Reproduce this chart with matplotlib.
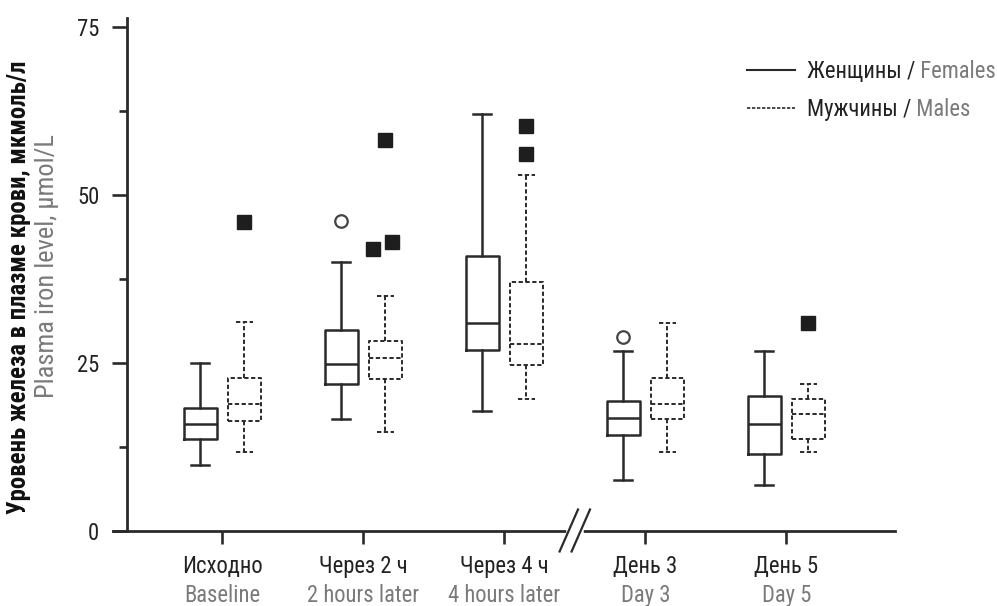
import matplotlib
matplotlib.use("Agg")
import matplotlib.pyplot as plt
import matplotlib.transforms as mtransforms
from matplotlib import font_manager as fm
from matplotlib.lines import Line2D

# ---------------- data ----------------
categories_ru = ['Исходно', 'Через 2 ч', 'Через 4 ч', 'День 3', 'День 5']
categories_en = ['Baseline', '2 hours later', '4 hours later', 'Day 3', 'Day 5']

fem_whislo = [9.8, 16.7, 17.8, 7.6, 6.8]
fem_q1 = [13.7, 21.9, 26.9, 14.3, 11.5]
fem_med = [15.9, 24.9, 31.0, 16.8, 15.9]
fem_q3 = [18.3, 29.9, 40.9, 19.3, 20.1]
fem_whishi = [25.0, 40.0, 62.0, 26.8, 26.8]
fem_fliers = [[], [46.1], [], [28.8], []]

male_whislo = [11.8, 14.8, 19.7, 11.7, 11.7]
male_q1 = [16.4, 22.6, 24.7, 16.7, 13.7]
male_med = [18.9, 25.8, 27.9, 18.9, 17.4]
male_q3 = [22.8, 28.2, 37.0, 22.7, 19.7]
male_whishi = [31.1, 34.9, 53.0, 31.0, 21.9]
male_fliers = [[46.0], [58.2, 43.0, 42.0], [60.2, 56.1], [], [30.9]]
male_flier_jitter = [[0.0], [0.0, 0.05, -0.09], [0.0, 0.0], [], [0.0]]

y_major = [0, 25, 50, 75]
y_minor = [12.5, 37.5, 62.5]

legend_ru = ['Женщины /', 'Мужчины /']
legend_en = ['Females', 'Males']
ylabel_ru = 'Уровень железа в плазме крови, мкмоль/л'
ylabel_en = 'Plasma iron level, μmol/L'

# ---------------- font choice (prefer a condensed face) ----------------
names = {f.name for f in fm.fontManager.ttflist}
stretches = {(f.name, f.stretch) for f in fm.fontManager.ttflist}
family = None
stretch = 'normal'
for cand in ['Liberation Sans Narrow', 'Roboto Condensed', 'Open Sans Condensed',
             'Noto Sans Condensed', 'DejaVu Sans Condensed']:
    if cand in names:
        family = cand
        break
if family is None:
    for n, s in stretches:
        if n in ('Roboto', 'Noto Sans', 'DejaVu Sans', 'Open Sans') and s in ('condensed', 'semi-condensed', 'extra-condensed', 'ultra-condensed'):
            family, stretch = n, s
            break
if family is None:
    family = 'Roboto' if 'Roboto' in names else 'DejaVu Sans'
plt.rcParams['font.family'] = [family, 'DejaVu Sans']
plt.rcParams['font.stretch'] = stretch

# ---------------- style ----------------
W, H = 997, 606
DPI = 100
ink = '#2a2a2a'
gray = '#7a7a7a'
offset = 0.157
bw = 0.235
dash = (0, (2.2, 1.3))

fig = plt.figure(figsize=(W / DPI, H / DPI), dpi=DPI)
renderer = fig.canvas.get_renderer()


def fit_size(text, target_px, weight='normal', maxsize=19.0):
    t = fig.text(0, 0, text, fontsize=10, fontweight=weight)
    w = t.get_window_extent(renderer).width
    t.remove()
    return min(maxsize, 10 * target_px / w)


fs = fit_size('Женщины / Females', 188)
fs_lab = fit_size(ylabel_ru, 452, 'bold')
fs_lab_en = fit_size(ylabel_en, 305)

ax_left_px, ax_right_px = 112.7, 895
ax_bottom_px, ax_top_px = 531, 18
ax = fig.add_axes([ax_left_px / W, (H - ax_bottom_px) / H,
                   (ax_right_px - ax_left_px) / W, (ax_bottom_px - ax_top_px) / H])

x0_px, step_px = 222.3, 141.0
ax.set_xlim((ax_left_px - x0_px) / step_px, (ax_right_px - x0_px) / step_px)
ax.set_ylim(0, (ax_bottom_px - ax_top_px) / 6.72)

positions = list(range(len(categories_ru)))


def stats(wl, q1, md, q3, wh):
    return [dict(whislo=a, q1=b, med=c, q3=d, whishi=e, fliers=[])
            for a, b, c, d, e in zip(wl, q1, md, q3, wh)]


fem_stats = stats(fem_whislo, fem_q1, fem_med, fem_q3, fem_whishi)
male_stats = stats(male_whislo, male_q1, male_med, male_q3, male_whishi)

solid = dict(color=ink, linewidth=1.8, linestyle='-')
ax.bxp(fem_stats, positions=[p - offset for p in positions], widths=bw,
       capwidths=0.125, showfliers=False,
       boxprops=solid, whiskerprops=solid, capprops=solid, medianprops=solid)
dashed = dict(color=ink, linewidth=1.4, linestyle=dash)
ax.bxp(male_stats, positions=[p + offset for p in positions], widths=bw,
       capwidths=0.125, showfliers=False,
       boxprops=dashed, whiskerprops=dashed, capprops=dashed, medianprops=dashed)

# outliers
for p, fl in zip(positions, fem_fliers):
    if fl:
        ax.plot([p - offset] * len(fl), fl, linestyle='none', marker='o',
                markersize=9, markerfacecolor='white', markeredgecolor='#444444',
                markeredgewidth=1.6, clip_on=False)
for p, fl, jit in zip(positions, male_fliers, male_flier_jitter):
    if fl:
        ax.plot([p + offset + j for j in jit], fl, linestyle='none', marker='s',
                markersize=9.5, markerfacecolor='#1e1e1e', markeredgecolor='#1e1e1e',
                clip_on=False)

# spines
for s in ['top', 'right']:
    ax.spines[s].set_visible(False)
ax.spines['left'].set_position(('data', (126.7 - x0_px) / step_px))
for s in ['left', 'bottom']:
    ax.spines[s].set_linewidth(2.0)
    ax.spines[s].set_color(ink)

ax.set_yticks(y_major)
ax.set_yticks(y_minor, minor=True)
ax.set_yticklabels([str(v) for v in y_major])
ax.tick_params(axis='y', which='major', length=10.8, width=1.9, color=ink,
               labelsize=fs, pad=9, labelcolor='#222222')
ax.tick_params(axis='y', which='minor', length=6.0, width=1.9, color=ink)
ax.set_xticks(positions)
ax.set_xticklabels(categories_ru)
ax.tick_params(axis='x', which='major', length=9.5, width=1.9, color=ink,
               labelsize=fs, pad=8, labelcolor='#222222')
ax.tick_params(axis='x', which='minor', bottom=False)

blend = mtransforms.blended_transform_factory(ax.transData, ax.transAxes)
for p, lab in zip(positions, categories_en):
    ax.annotate(lab, xy=(p, 0), xycoords=blend, xytext=(0, -38.5),
                textcoords='offset points', ha='center', va='top',
                fontsize=fs, color=gray)

# axis break
brk = fig.dpi_scale_trans + mtransforms.ScaledTranslation(2.5, 0, blend)
gap = Line2D([-0.06, 0.06], [0, 0], transform=brk, color='white',
             linewidth=4, clip_on=False, zorder=5)
fig.add_artist(gap)
for dx in (-0.06, 0.06):
    ln = Line2D([dx - 0.092, dx + 0.092], [-0.205, 0.215], transform=brk,
                color=ink, linewidth=1.6, clip_on=False, zorder=6)
    fig.add_artist(ln)

# y label
fig.text(19 / W, 1 - 287 / H, ylabel_ru, rotation=90, ha='center', va='center',
         fontsize=fs_lab, fontweight='bold', color='#111111')
fig.text(47 / W, 1 - 266 / H, ylabel_en, rotation=90, ha='center', va='center',
         fontsize=fs_lab_en, color=gray)

# legend
em_px = fs * DPI / 72
handles = [Line2D([], [], color=ink, linewidth=1.5, linestyle='-'),
           Line2D([], [], color=ink, linewidth=1.2, linestyle=(0, (2.0, 1.0)))]
leg = ax.legend(handles, legend_ru, loc='upper left',
                bbox_to_anchor=(747 / W, 1 - 60 / H), bbox_transform=fig.transFigure,
                frameon=False, fontsize=fs, handlelength=48 / em_px,
                handletextpad=12 / em_px,
                labelspacing=0.68, borderpad=0, borderaxespad=0)
for t in leg.get_texts():
    t.set_color('#222222')
fig.canvas.draw()
for t, en in zip(leg.get_texts(), legend_en):
    ax.annotate(' ' + en, xy=(1, 0), xycoords=t, va='bottom', ha='left',
                fontsize=fs, color=gray, annotation_clip=False)

fig.savefig('out.png', dpi=DPI)
